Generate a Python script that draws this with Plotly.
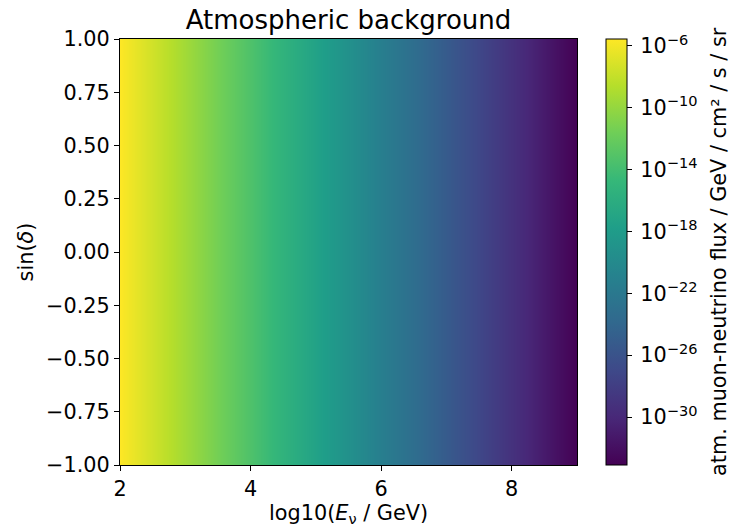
import plotly.graph_objects as go

# log10(E_nu / GeV) grid (bin centres) and sin(declination)
log_energy = [2.0, 2.5, 3.0, 3.5, 4.0, 4.5, 5.0, 5.5, 6.0, 6.5, 7.0, 7.5, 8.0, 8.5, 9.0]
sin_dec = [-1.0, 1.0]
# log10 of atmospheric muon-neutrino flux
log_flux = [-5.55, -7.5, -9.45, -11.45, -13.4, -15.35, -17.35, -19.3,
            -21.3, -23.25, -25.2, -27.2, -29.15, -31.1, -33.1]

cbar_tickvals = [-6, -10, -14, -18, -22, -26, -30]
cbar_ticktext = ["\u200910<sup>\u2212%d</sup>" % abs(v) for v in cbar_tickvals]
y_ticks = [-1.0, -0.75, -0.5, -0.25, 0.0, 0.25, 0.5, 0.75, 1.0]
x_ticks = [2, 4, 6, 8]

z = [log_flux for _ in sin_dec]

FONT = "DejaVu Sans"
fs = 20.8

fig = go.Figure(go.Heatmap(
    x=log_energy, y=sin_dec, z=z,
    colorscale="Viridis", zmin=-33.1, zmax=-5.55, zsmooth="best",
    colorbar=dict(
        x=1 + (606 - 577) / 457, xanchor="left", xpad=0, ypad=0,
        y=0.5, yanchor="middle", len=1, lenmode="fraction",
        thickness=21, outlinewidth=1, outlinecolor="black",
        ticks="outside", ticklen=5, tickwidth=1, tickcolor="black",
        tickvals=cbar_tickvals, ticktext=cbar_ticktext,
        tickfont=dict(family=FONT, size=fs, color="black"),
    ),
))

fig.update_layout(
    width=730, height=529,
    margin=dict(l=120, r=153, t=39, b=64),
    paper_bgcolor="white", plot_bgcolor="white",
    font=dict(family=FONT, size=fs, color="black"),
    title=dict(text="Atmospheric background", x=0.5, xref="paper", xanchor="center",
               y=1 - 20 / 529, yref="container", yanchor="middle",
               font=dict(family=FONT, size=26, color="black")),
    annotations=[dict(
        text="atm. muon-neutrino flux / GeV / cm² / s / sr",
        xref="paper", yref="paper", x=(719 - 120) / 457, y=0.5,
        xanchor="center", yanchor="middle", textangle=-90, showarrow=False,
        font=dict(family=FONT, size=fs, color="black"),
    )],
)
fig.update_xaxes(range=[2, 9], tickvals=x_ticks, ticks="outside", ticklen=5, tickwidth=1,
                 tickcolor="black", showline=True, linecolor="black", linewidth=1, mirror=True,
                 showgrid=False, zeroline=False,
                 title=dict(text="log10(<i>E</i><sub>ν</sub> / GeV)", standoff=2,
                            font=dict(family=FONT, size=fs)))
fig.update_yaxes(range=[-1, 1], tickvals=y_ticks, tickformat=".2f", ticksuffix="\u2009",
                 ticks="outside", ticklen=5,
                 tickwidth=1, tickcolor="black", showline=True, linecolor="black", linewidth=1,
                 mirror=True, showgrid=False, zeroline=False,
                 title=dict(text="sin(<i>δ</i>)", standoff=6, font=dict(family=FONT, size=fs)))

fig.write_html("out.html")
